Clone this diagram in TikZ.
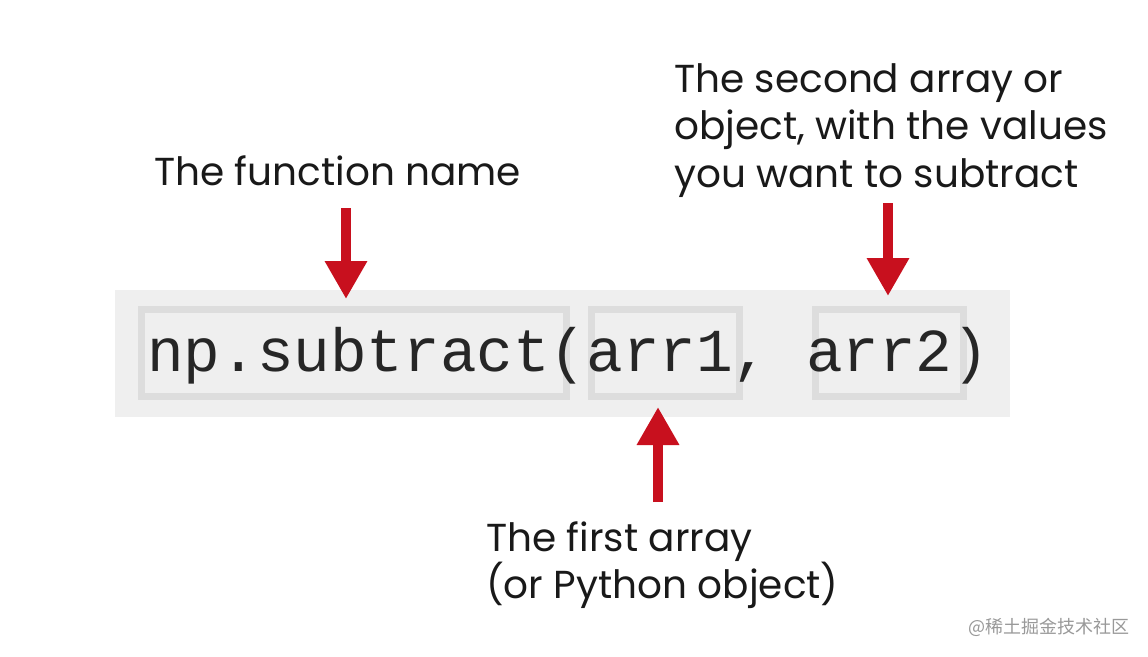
\documentclass[tikz,border=0pt]{standalone}
\usepackage{fontspec}
\setmainfont{Poppins}
\newfontfamily\codefont{Liberation Mono}
\newfontfamily\cjk{Noto Sans CJK SC}
\usetikzlibrary{arrows.meta}
\definecolor{bgg}{HTML}{EFEFEF}
\definecolor{brd}{HTML}{DDDDDD}
\definecolor{redar}{HTML}{C8101E}
\begin{document}
\begin{tikzpicture}[x=1pt,y=-1pt,
  lbl/.style={font=\fontsize{39}{47}\selectfont, text=black!90, align=left, inner sep=0pt, anchor=base west},
  hbox/.style={draw=brd, line width=7pt, fill=bgg},
  rarrow/.style={draw=redar, line width=10pt, -{Triangle[width=40pt,length=38pt]}}]
\useasboundingbox (0,0) rectangle (1148,656);
\fill[white] (0,0) rectangle (1148,656);
\fill[bgg] (115,290) rectangle (1010,417);
\draw[hbox] (141.5,309.5) rectangle (566.5,396.5);
\draw[hbox] (591.5,309.5) rectangle (739.5,396.5);
\draw[hbox] (815.5,309.5) rectangle (963.5,396.5);
\node[anchor=base west, inner sep=0pt, font=\codefont\fontsize{61}{61}\selectfont, text=black!85] (code) at (147,371) {np.subtract(arr1, arr2)};
\node[lbl] (fn) at (154,185) {The function name};
\node[lbl] (sec1) at (674,92) {The second array or};
\node[lbl] (sec2) at (674,139) {object, with the values};
\node[lbl] (sec3) at (674,187) {you want to subtract};
\node[lbl] (fst1) at (486,551) {The first array};
\node[lbl] (fst2) at (486,598) {(or Python object)};
\coordinate (a1s) at (346,208); \coordinate (a1e) at (346,299);
\coordinate (a2s) at (888,203); \coordinate (a2e) at (888,296);
\coordinate (a3s) at (658,502); \coordinate (a3e) at (658,407);
\draw[rarrow] (a1s) -- (a1e);
\draw[rarrow] (a2s) -- (a2e);
\draw[rarrow] (a3s) -- (a3e);
\node[anchor=east, inner sep=0pt, font=\cjk\fontsize{18}{18}\selectfont, text=black!40] (wm) at (1130,627) {@稀土掘金技术社区};
\end{tikzpicture}
\end{document}
